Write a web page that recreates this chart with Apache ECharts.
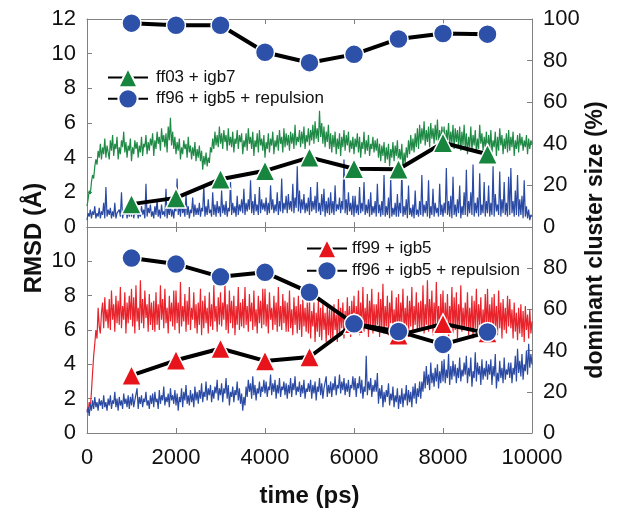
<!DOCTYPE html>
<html>
<head>
<meta charset="utf-8">
<script src="https://cdn.jsdelivr.net/npm/echarts@6/dist/echarts.min.js"></script>
<style>
html,body{margin:0;padding:0;background:#fff;}
#chart{width:621px;height:521px;}
</style>
</head>
<body>
<div id="chart"></div>
<script>
// ---- data ----
const STEP = 25; // ps between trace samples
const clusterTimes = [1000, 2000, 3000, 4000, 5000, 6000, 7000, 8000, 9000];

// top panel: cluster sizes (%)
const ff03Cluster = [11, 14, 23, 27, 33.5, 28, 27.8, 40.5, 35];
const ff96TopCluster = [98, 97, 97, 84, 79, 83, 90.4, 93, 92.7];
// bottom panel: cluster sizes (%)
const ff99Cluster = [28, 35.3, 41, 35, 36.9, 53, 47.5, 53, 48.5];
const ff96BotCluster = [84.9, 82, 75.8, 78, 68.3, 53, 49.3, 43, 49];

// RMSD traces (Å), one value every STEP ps from 0 to 10000 (rows of 500 ps)
const ff03Rmsd = [
1.2,1.6,2.1,1.9,2.6,3.0,2.8,3.5,3.9,3.6,4.4,4.0,4.8,3.9,4.6,4.2,5.1,4.0,4.7,4.3,
3.9,5.0,4.4,5.3,4.1,4.8,4.5,5.2,3.9,4.6,4.2,5.0,4.6,5.5,4.3,4.9,4.0,4.7,4.4,5.1,
3.8,4.6,4.2,5.0,4.5,4.9,4.0,4.7,4.3,5.2,4.1,4.8,4.6,5.3,4.2,4.9,4.4,5.1,4.7,5.4,
4.1,5.0,4.5,5.5,4.8,5.2,4.4,5.7,4.9,5.3,4.6,5.4,4.3,5.8,5.0,6.3,4.7,5.5,4.5,5.2,
4.2,4.9,4.4,5.1,3.9,4.6,4.2,5.0,4.5,4.8,4.0,5.2,4.3,4.7,3.9,4.6,4.1,4.9,3.8,4.5,
4.0,4.7,3.8,4.4,3.3,4.1,3.6,4.3,3.5,4.0,3.7,4.6,4.3,5.1,4.5,5.5,4.7,5.3,4.6,5.8,
4.8,5.4,4.5,5.6,4.9,5.3,4.4,5.7,4.7,5.2,4.6,5.5,4.3,5.1,4.8,5.6,4.5,5.3,4.9,5.4,
4.2,5.0,4.6,5.4,4.4,5.7,4.8,5.2,4.5,5.5,4.1,5.0,4.6,5.4,4.3,5.6,4.7,5.1,4.4,5.3,
4.0,4.9,4.5,5.4,4.3,5.1,4.7,5.5,4.2,5.0,4.6,5.3,4.4,5.6,4.8,5.2,4.3,5.7,4.6,5.4,
4.7,5.3,4.4,5.5,4.8,5.4,4.5,5.9,4.7,5.2,4.9,5.6,4.6,5.5,4.8,5.8,4.5,5.3,4.9,5.7,
4.7,5.6,5.0,5.9,4.8,6.1,5.1,5.7,4.9,6.7,5.2,6.0,4.8,5.8,4.6,5.5,4.9,5.9,4.5,5.4,
4.3,5.3,4.6,5.5,4.2,5.1,4.5,5.4,4.1,5.2,4.6,5.6,4.4,5.3,4.7,5.5,4.3,5.0,4.5,5.2,
4.2,5.1,4.6,5.4,4.3,5.2,4.0,4.9,4.5,5.5,4.2,5.0,4.4,5.3,4.1,4.8,4.5,5.2,4.3,5.0,
4.4,5.1,4.0,4.8,3.8,4.7,4.1,4.9,3.7,4.6,3.9,4.8,3.5,4.5,4.0,4.9,3.8,4.7,4.1,5.0,
3.6,4.5,3.9,4.8,3.3,4.3,3.7,4.6,4.0,5.0,4.2,5.3,4.4,5.1,4.3,5.4,4.6,5.7,4.5,5.9,
4.8,5.7,5.0,6.1,4.7,5.6,4.9,5.8,4.6,6.0,5.1,5.7,4.8,5.9,5.0,6.2,4.7,5.6,4.9,5.8,
4.9,5.8,4.6,5.6,5.0,6.0,4.7,5.5,4.8,5.9,4.5,5.7,4.9,5.6,4.6,5.8,4.4,5.5,4.7,5.9,
4.5,5.4,4.2,5.2,4.6,5.8,4.4,5.3,4.7,5.6,4.3,5.1,4.5,5.9,4.8,5.4,4.4,5.2,4.6,5.5,
4.2,5.3,4.5,5.6,4.3,5.0,4.6,5.5,4.1,5.2,4.4,5.7,4.7,5.3,4.2,5.1,4.5,5.4,4.3,5.6,
4.4,5.2,4.6,5.5,4.1,5.0,4.5,5.3,4.3,5.4,4.7,5.2,4.4,5.0,4.6,5.3,4.2,5.1,4.5,5.0,
4.8];
const ff96TopRmsd = [
0.4,0.8,0.6,1.0,0.5,0.9,0.7,1.2,0.5,0.8,0.6,1.1,0.5,0.9,0.7,1.4,0.5,2.3,0.6,1.0,
0.7,1.1,0.5,0.9,0.6,1.4,0.5,0.8,0.7,1.0,0.6,2.0,0.5,0.9,0.7,1.2,0.5,1.0,0.6,1.3,
0.6,1.5,0.5,0.9,0.7,1.1,0.5,0.8,0.6,1.2,0.7,1.0,0.5,2.5,0.6,1.1,0.8,1.3,0.6,0.9,
0.5,1.2,0.7,1.6,0.6,1.0,0.5,1.3,0.7,0.9,0.6,2.2,0.5,1.1,0.7,1.4,0.6,1.0,0.5,1.2,
0.9,2.8,0.7,1.3,0.6,1.5,0.8,1.1,0.6,1.9,0.7,1.2,0.5,1.0,0.8,1.7,0.6,1.3,0.7,1.1,
0.7,1.4,0.6,1.1,0.9,2.4,0.6,1.2,0.7,1.6,0.8,1.0,0.6,2.0,0.7,1.3,0.6,1.5,0.8,1.2,
0.6,2.1,0.8,1.3,0.7,1.5,0.6,1.1,0.9,2.6,0.7,1.4,0.8,1.2,0.6,1.8,0.7,1.3,0.9,1.6,
0.8,2.2,0.7,1.4,0.9,1.6,1.0,2.7,0.8,1.5,0.7,1.9,0.9,1.3,0.7,2.3,0.8,1.6,1.0,1.4,
0.9,1.7,0.7,1.4,0.8,2.4,1.0,1.6,0.8,1.3,0.9,2.0,0.7,1.5,0.9,2.8,0.8,1.4,1.0,1.8,
0.8,1.9,1.0,1.5,0.9,2.5,0.8,1.7,1.1,3.5,0.9,2.1,0.8,1.6,1.0,1.9,0.8,1.4,0.9,1.7,
0.7,2.3,0.9,1.5,1.0,1.8,0.8,2.6,0.9,1.4,0.7,1.9,0.9,2.2,0.6,1.5,0.8,1.7,0.7,2.0,
0.8,1.5,0.7,2.4,0.9,1.3,1.0,1.7,0.8,1.5,1.0,3.9,0.8,1.6,0.7,2.0,0.9,1.4,0.7,1.8,
0.6,1.8,0.8,1.3,0.7,2.3,0.8,1.4,0.9,2.6,0.7,1.3,0.8,1.6,0.6,2.0,0.7,1.2,0.8,1.5,
0.6,2.5,0.8,1.3,0.6,1.5,0.7,3.0,0.6,1.2,0.7,1.7,0.5,2.8,0.6,1.1,0.7,1.4,0.6,1.9,
0.6,1.4,0.8,3.3,0.6,1.2,0.7,1.6,0.5,2.4,0.7,1.1,0.6,1.3,0.5,2.1,0.7,1.0,0.6,1.5,
0.7,3.0,0.6,1.3,0.8,1.5,0.6,2.7,0.5,1.2,0.7,2.2,0.6,1.4,0.8,1.1,0.6,2.5,0.7,1.3,
0.6,1.4,0.8,3.4,0.7,1.5,0.6,1.8,0.5,2.9,0.7,1.3,0.6,1.6,0.8,2.4,0.5,1.2,0.7,2.0,
0.7,3.3,0.6,1.5,0.8,2.0,0.7,3.6,0.6,1.4,0.8,1.7,0.6,3.1,0.7,1.3,0.8,2.6,0.6,1.5,
0.8,2.4,0.6,1.4,0.7,3.5,0.6,1.9,0.9,1.3,0.7,3.2,0.6,1.6,0.8,2.6,0.7,1.4,0.6,2.9,
0.7,3.4,0.8,1.5,0.6,2.1,0.7,3.0,0.6,1.6,0.7,1.8,0.5,2.7,0.6,1.2,0.5,1.0,0.4,0.7,
0.6];
const ff99Rmsd = [
1.4,1.2,1.8,1.5,2.4,3.5,4.5,5.2,6.0,5.5,7.3,6.2,5.8,7.0,7.6,6.1,7.9,6.5,7.2,6.1,
7.8,6.0,8.3,6.6,7.5,5.9,8.0,6.4,7.7,6.3,8.5,6.1,7.4,6.6,8.2,5.8,7.6,6.4,8.0,6.6,
8.4,6.2,7.9,5.8,8.6,6.5,7.3,6.0,8.9,6.4,7.8,6.1,8.3,6.7,7.5,5.9,8.1,6.3,7.6,6.0,
7.7,5.9,8.2,6.3,7.5,6.0,8.6,6.6,7.8,6.1,8.4,6.4,7.3,5.8,8.0,6.5,7.6,6.2,8.3,6.0,
8.3,6.4,7.6,5.8,8.8,6.2,7.4,6.5,8.1,5.9,7.7,6.3,8.5,6.0,7.3,6.6,8.2,6.1,7.5,5.8,
7.6,6.3,8.4,5.7,7.7,6.1,8.0,6.4,7.3,5.8,8.2,6.2,7.5,6.0,8.6,6.5,7.4,5.9,7.9,6.3,
8.2,6.2,7.6,6.6,8.7,6.0,7.5,5.8,8.3,6.4,7.7,6.1,8.0,5.7,7.4,6.3,8.5,6.0,7.6,6.2,
7.8,6.1,8.5,6.3,7.4,5.9,8.1,6.5,7.6,6.0,8.3,6.2,7.2,5.8,8.0,6.4,7.7,6.1,8.4,6.3,
8.4,6.2,7.5,5.8,8.2,6.6,7.3,6.0,8.0,6.3,7.6,5.9,8.5,6.2,7.4,6.0,8.1,6.4,7.7,5.9,
7.6,5.9,8.3,6.1,7.2,5.7,7.9,6.3,7.4,5.8,8.0,6.0,7.5,5.6,7.8,6.2,7.3,5.9,7.6,5.8,
7.8,5.5,7.1,6.2,7.6,5.3,7.0,5.9,7.7,5.6,7.3,5.4,7.5,6.0,7.0,5.3,7.4,5.7,7.2,5.5,
7.2,5.4,7.5,6.0,6.9,5.3,7.8,5.7,7.3,6.1,7.6,5.5,7.1,5.8,7.9,6.0,7.4,5.6,7.7,6.1,
8.0,5.8,7.4,6.2,8.3,5.7,7.6,6.0,8.5,5.9,7.3,6.1,8.1,5.6,7.7,6.3,8.4,5.8,7.5,6.0,
7.5,6.3,8.2,5.6,7.8,6.1,8.7,5.8,7.4,6.2,8.0,5.7,7.6,6.4,8.3,5.9,7.2,6.0,7.9,5.8,
8.1,5.7,7.6,6.4,8.4,5.9,7.3,6.1,8.0,5.6,7.7,6.2,8.5,5.8,7.4,6.3,8.2,5.9,7.6,6.0,
7.7,6.0,8.6,5.8,7.5,6.3,8.9,5.9,7.8,6.2,8.3,5.7,7.6,6.1,8.8,6.4,7.4,5.8,8.1,6.0,
8.3,5.7,7.6,6.1,8.1,5.6,7.4,6.3,8.5,5.8,7.9,6.0,8.2,5.5,7.5,6.2,8.6,5.9,7.3,6.0,
7.6,6.2,8.2,5.7,7.3,6.0,8.0,5.5,7.7,6.1,8.4,5.8,7.5,6.3,7.9,5.6,7.2,6.0,8.1,5.9,
8.4,5.8,7.5,6.2,7.9,5.6,8.1,6.0,7.4,5.7,8.3,6.1,7.6,5.5,7.8,6.0,7.3,5.8,8.0,6.2,
7.8,6.1,7.2,5.5,7.6,5.9,7.0,5.4,7.3,5.8,7.5,5.6,7.1,5.3,7.4,6.0,6.9,5.5,7.2,5.8,
6.5];
const ff96BotRmsd = [
1.2,1.5,1.0,1.7,1.3,1.9,1.4,2.1,1.5,1.8,1.3,2.0,1.6,1.9,1.4,2.2,1.5,1.8,1.3,2.0,
1.6,2.2,1.4,1.9,1.7,2.4,1.5,2.0,1.3,2.1,1.6,1.9,1.4,2.3,1.7,2.0,1.5,2.2,1.4,2.1,
1.6,2.3,1.5,1.9,1.8,2.6,1.4,2.1,1.7,2.2,1.5,2.0,1.8,2.4,1.6,1.9,1.4,2.2,1.7,2.3,
1.5,2.4,1.8,2.0,1.4,2.5,1.7,2.2,1.9,2.7,1.6,2.1,1.8,2.3,1.5,2.6,1.9,2.2,1.7,2.5,
1.6,2.3,1.3,2.1,1.8,2.6,1.5,2.4,1.9,2.8,1.7,2.2,1.6,2.5,1.8,2.3,1.5,2.7,1.9,2.4,
1.7,2.5,2.0,2.9,1.8,2.4,2.1,3.0,1.9,2.6,2.2,2.8,1.8,2.5,2.0,2.7,2.3,3.1,1.9,2.6,
2.2,2.9,1.8,2.6,2.3,3.2,2.0,2.8,1.6,2.4,2.1,2.7,1.8,2.5,2.2,3.0,1.9,2.6,1.7,2.3,
1.3,2.1,1.6,2.7,2.1,3.1,2.4,2.9,2.0,3.3,2.2,2.8,1.9,2.6,2.3,3.0,2.1,2.7,2.4,3.1,
2.3,3.0,2.1,2.7,2.5,3.4,2.2,2.9,2.4,3.1,2.0,2.8,2.3,3.2,2.1,2.7,2.5,3.0,2.2,2.9,
2.0,2.8,2.3,3.2,2.1,2.9,2.5,3.3,2.2,2.7,2.4,3.0,2.1,2.8,2.3,3.1,2.0,2.6,2.4,2.9,
2.4,3.1,2.0,2.8,2.3,3.0,1.9,2.7,2.4,3.2,2.2,2.9,2.0,2.6,2.5,3.3,2.1,2.8,2.3,3.0,
2.1,2.9,2.5,3.3,2.2,2.8,2.6,3.4,2.3,3.0,2.5,3.2,2.2,2.9,2.4,3.1,2.1,2.8,2.6,3.3,
2.5,3.2,2.1,2.9,2.6,3.3,2.3,3.1,2.0,2.7,2.4,4.5,2.2,3.0,2.5,3.2,2.1,2.8,2.4,3.1,
2.4,3.5,1.7,2.6,2.0,2.8,1.5,2.4,1.8,2.5,2.1,2.9,1.6,2.3,1.9,2.7,1.5,2.2,1.8,2.6,
1.4,2.2,1.7,2.6,1.5,2.3,1.9,2.8,1.6,2.5,1.8,2.4,1.5,2.7,2.0,2.9,1.7,2.6,2.1,3.0,
2.0,3.0,2.4,3.6,2.6,3.9,2.8,3.4,2.5,4.1,2.9,3.5,2.7,3.8,3.0,4.0,2.6,3.6,2.9,4.2,
3.0,4.3,2.9,3.7,3.2,4.6,2.8,3.9,3.1,4.2,3.3,4.0,2.9,3.8,3.2,4.4,3.0,3.7,3.3,4.1,
3.4,4.5,2.9,3.8,3.3,4.4,2.7,3.6,3.2,4.7,3.0,4.1,3.4,3.9,2.8,4.3,3.1,3.8,3.3,4.2,
3.1,4.0,3.4,4.3,2.8,3.9,3.3,4.6,2.6,3.5,3.0,4.2,3.2,3.8,2.9,4.4,3.1,3.7,3.4,4.1,
3.2,4.1,2.9,3.8,3.4,4.5,3.0,4.9,3.5,4.2,3.3,4.6,3.1,4.0,3.6,4.8,3.4,5.2,3.8,4.6,
4.0];

const nameFF03 = 'ff03 + igb7';
const nameFF96 = 'ff96 + igb5 + repulsion';
const nameFF99 = 'ff99 + igb5';

// ---- chart ----
const pairs = arr => arr.map((v, i) => [i * STEP, v]);
const clusterPairs = arr => arr.map((v, i) => [clusterTimes[i], v]);

const FONT = '"Liberation Sans", Arial, Helvetica, sans-serif';
const FRAME = '#808080';
const GREEN_TRACE = '#1f8a45';
const BLUE_TRACE = '#2a4aa3';
const RED_TRACE = '#e8232b';
const GREEN_MARK = '#17853d';
const BLUE_MARK = '#2d50a8';
const RED_MARK = '#e8141c';

const G = [
  {left: 87, top: 19, width: 445, height: 208},
  {left: 87, top: 227, width: 445, height: 206}
];

function xAx(grid, pos, showLabel) {
  return {
    type: 'value', gridIndex: grid, position: pos, min: 0, max: 10000, interval: 2000,
    axisLine: {show: true, onZero: false, lineStyle: {color: FRAME, width: 1}},
    axisTick: {show: true, inside: true, length: 5, lineStyle: {color: FRAME}},
    axisLabel: {show: showLabel, fontSize: 22, color: '#111', fontFamily: FONT, margin: 14,
      formatter: v => String(v)},
    splitLine: {show: false}
  };
}
function yAx(grid, pos, max, interval, hideMax) {
  return {
    type: 'value', gridIndex: grid, position: pos, min: 0, max: max, interval: interval,
    axisLine: {show: true, onZero: false, lineStyle: {color: FRAME, width: 1}},
    axisTick: {show: true, inside: true, length: 5, lineStyle: {color: FRAME}},
    axisLabel: {show: true, fontSize: 22, color: '#111', fontFamily: FONT, margin: 11,
      formatter: v => (hideMax && v === max) ? '' : String(v)},
    splitLine: {show: false}
  };
}

const xBottom = xAx(1, 'bottom', true);
xBottom.name = 'time (ps)';
xBottom.nameLocation = 'middle';
xBottom.nameGap = 51;
xBottom.nameTextStyle = {fontSize: 24, fontWeight: 'bold', color: '#111', fontFamily: FONT};

function trace(name, data, color, xi, yi) {
  return {
    name: name, type: 'line', xAxisIndex: xi, yAxisIndex: yi, data: pairs(data),
    showSymbol: false, symbol: 'none', animation: false, z: 2, sampling: null,
    lineStyle: {color: color, width: 1.2}, itemStyle: {color: color}
  };
}
function marks(name, data, sym, size, color, xi, yi) {
  return {
    name: name, type: 'line', xAxisIndex: xi, yAxisIndex: yi, data: clusterPairs(data),
    symbol: sym, symbolSize: size, showSymbol: true, clip: false, animation: false, z: 5,
    lineStyle: {color: '#000', width: 4},
    itemStyle: {color: color, borderColor: '#fff', borderWidth: 1.5}
  };
}

const option = {
  animation: false,
  backgroundColor: '#fff',
  grid: G,
  xAxis: [xAx(0, 'bottom', false), xAx(0, 'top', false), xBottom, xAx(1, 'top', false)],
  yAxis: [yAx(0, 'left', 12, 2, false), yAx(0, 'right', 100, 20, false),
          yAx(1, 'left', 12, 2, true), yAx(1, 'right', 100, 20, true)],
  legend: [
    {data: [nameFF03, nameFF96], orient: 'vertical', left: 102, top: 62, itemWidth: 40, itemHeight: 24, itemGap: 0,
     textStyle: {fontSize: 17, color: '#111', fontFamily: FONT, padding: [0, 0, 0, 3]}, selectedMode: false},
    {data: [nameFF99, nameFF96], orient: 'vertical', left: 301, top: 233, itemWidth: 40, itemHeight: 24, itemGap: 1,
     textStyle: {fontSize: 17, color: '#111', fontFamily: FONT, padding: [0, 0, 0, 0]}, selectedMode: false}
  ],
  graphic: [
    {type: 'text', x: 34, y: 238, rotation: Math.PI / 2,
     style: {text: 'RMSD (Å)', font: 'bold 24px ' + FONT, fill: '#111', textAlign: 'center', textVerticalAlign: 'middle'}},
    {type: 'text', x: 596, y: 240, rotation: Math.PI / 2,
     style: {text: 'dominant cluster size (%)', font: 'bold 23px ' + FONT, fill: '#111', textAlign: 'center', textVerticalAlign: 'middle'}}
  ],
  series: [
    trace('trace-ff03', ff03Rmsd, GREEN_TRACE, 0, 0),
    trace('trace-ff96a', ff96TopRmsd, BLUE_TRACE, 0, 0),
    marks(nameFF03, ff03Cluster, 'triangle', 20, GREEN_MARK, 0, 1),
    marks(nameFF96, ff96TopCluster, 'circle', 19, BLUE_MARK, 0, 1),
    trace('trace-ff99', ff99Rmsd, RED_TRACE, 2, 2),
    trace('trace-ff96b', ff96BotRmsd, BLUE_TRACE, 2, 2),
    marks(nameFF99, ff99Cluster, 'triangle', 20, RED_MARK, 2, 3),
    marks(nameFF96, ff96BotCluster, 'circle', 19, BLUE_MARK, 2, 3)
  ]
};

const chart = echarts.init(document.getElementById('chart'), null, {renderer: 'canvas'});
chart.setOption(option);
</script>
</body>
</html>
